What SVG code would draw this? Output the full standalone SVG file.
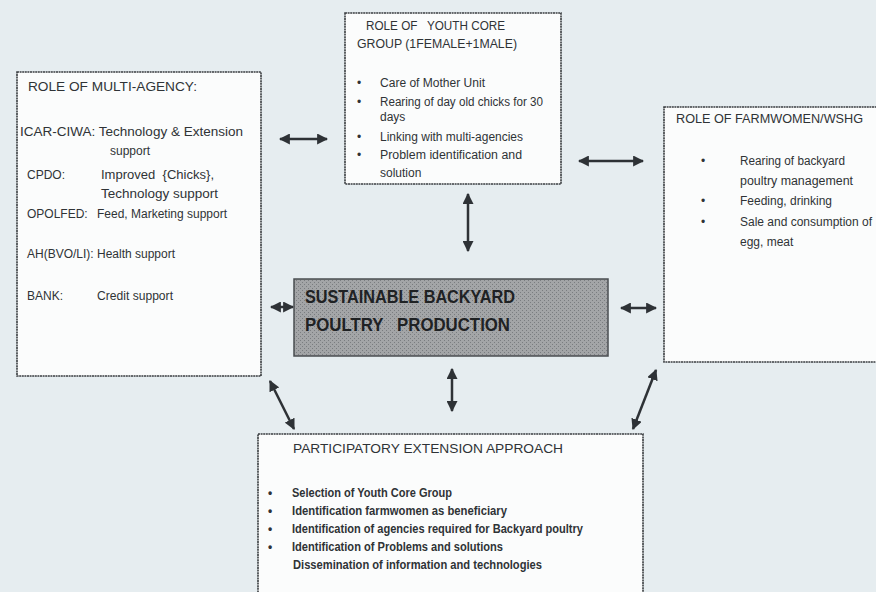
<svg xmlns="http://www.w3.org/2000/svg" width="876" height="592" viewBox="0 0 876 592">
<defs>
<marker id="ah" viewBox="0 0 10 10" refX="9" refY="5" markerWidth="4.4" markerHeight="4.4" orient="auto-start-reverse" markerUnits="strokeWidth">
<path d="M0,0 L10,5 L0,10 z" fill="#2e3236"/>
</marker>
<pattern id="dith" width="4" height="4" patternUnits="userSpaceOnUse">
<rect width="4" height="4" fill="#a3a5a7"/>
<rect x="0" y="0" width="1" height="1" fill="#7a7d80"/>
<rect x="2" y="2" width="1" height="1" fill="#7a7d80"/>
</pattern>
</defs>
<style>
.box{fill:#fbfcfc;stroke:#3a3d40;stroke-width:1.6;stroke-dasharray:2 0.6}
.t{font-family:"Liberation Sans",Arial,sans-serif;fill:#2f3336;font-size:12px;white-space:pre}
.h{font-family:"Liberation Sans",Arial,sans-serif;fill:#2f3336;font-size:13.5px;white-space:pre}
.b{font-weight:bold}
.c{font-family:"Liberation Sans",Arial,sans-serif;fill:#1f2224;font-size:18px;font-weight:bold;white-space:pre}
.conn{stroke:#2e3236;stroke-width:2.5;fill:none;marker-start:url(#ah);marker-end:url(#ah)}
</style>
<rect width="876" height="592" fill="#e6edf0"/>

<g id="multi-agency">
<rect class="box" x="17" y="72" width="244" height="304"/>
<text class="h" x="28" y="91" textLength="169" lengthAdjust="spacingAndGlyphs">ROLE OF MULTI-AGENCY:</text>
<text class="t" x="20" y="136" textLength="223" lengthAdjust="spacingAndGlyphs">ICAR-CIWA: Technology &amp; Extension</text>
<text class="t" x="110" y="155">support</text>
<text class="t" x="27" y="179">CPDO:</text>
<text class="t" x="101" y="179" textLength="113" lengthAdjust="spacingAndGlyphs">Improved  {Chicks},</text>
<text class="t" x="101" y="198" textLength="117" lengthAdjust="spacingAndGlyphs">Technology support</text>
<text class="t" x="27" y="218" font-size="11">OPOLFED:</text>
<text class="t" x="97" y="218" textLength="130" lengthAdjust="spacingAndGlyphs" font-size="11">Feed, Marketing support</text>
<text class="t" x="27" y="258" font-size="11">AH(BVO/LI):</text>
<text class="t" x="97" y="258" textLength="78" lengthAdjust="spacingAndGlyphs" font-size="11">Health support</text>
<text class="t" x="27" y="300" font-size="11">BANK:</text>
<text class="t" x="97" y="300" textLength="76" lengthAdjust="spacingAndGlyphs" font-size="11">Credit support</text>
</g>

<g id="youth-core">
<rect class="box" x="345" y="13" width="216" height="171"/>
<text class="t" x="366" y="30" font-size="12.5" textLength="139" lengthAdjust="spacingAndGlyphs">ROLE OF   YOUTH CORE</text>
<text class="t" x="357" y="48" font-size="12.5" textLength="160" lengthAdjust="spacingAndGlyphs">GROUP (1FEMALE+1MALE)</text>
<g class="t" font-size="11">
<text x="357" y="87">•</text><text x="380" y="87" textLength="105" lengthAdjust="spacingAndGlyphs">Care of Mother Unit</text>
<text x="357" y="106">•</text><text x="380" y="106" textLength="163" lengthAdjust="spacingAndGlyphs">Rearing of day old chicks for 30</text>
<text x="380" y="121">days</text>
<text x="357" y="141">•</text><text x="380" y="141" textLength="143" lengthAdjust="spacingAndGlyphs">Linking with multi-agencies</text>
<text x="357" y="159">•</text><text x="380" y="159" textLength="142" lengthAdjust="spacingAndGlyphs">Problem identification and</text>
<text x="380" y="177">solution</text>
</g>
</g>

<g id="farmwomen">
<rect class="box" x="664" y="107" width="220" height="255"/>
<text class="t" x="676" y="123" font-size="12.5" textLength="187" lengthAdjust="spacingAndGlyphs">ROLE OF FARMWOMEN/WSHG</text>
<g class="t" font-size="11">
<text x="701" y="165">•</text><text x="740" y="165" textLength="105" lengthAdjust="spacingAndGlyphs">Rearing of backyard</text>
<text x="740" y="185" textLength="113" lengthAdjust="spacingAndGlyphs">poultry  management</text>
<text x="701" y="205">•</text><text x="740" y="205" textLength="92" lengthAdjust="spacingAndGlyphs">Feeding, drinking</text>
<text x="701" y="226">•</text><text x="740" y="226" textLength="132" lengthAdjust="spacingAndGlyphs">Sale and consumption of</text>
<text x="740" y="246">egg, meat</text>
</g>
</g>

<g id="sustainable">
<rect x="294" y="279" width="314" height="77" fill="url(#dith)" stroke="#4a4d50" stroke-width="1.5"/>
<text class="c" x="305" y="303" textLength="210" lengthAdjust="spacingAndGlyphs">SUSTAINABLE BACKYARD</text>
<text class="c" x="305" y="331" textLength="205" lengthAdjust="spacingAndGlyphs">POULTRY   PRODUCTION</text>
</g>

<g id="participatory">
<rect class="box" x="258" y="434" width="385" height="170"/>
<text class="h" x="293" y="453" textLength="270" lengthAdjust="spacingAndGlyphs">PARTICIPATORY EXTENSION APPROACH</text>
<g class="t b" font-size="11">
<text x="268" y="497">•</text><text x="292" y="497" textLength="160" lengthAdjust="spacingAndGlyphs">Selection of Youth Core Group</text>
<text x="268" y="515">•</text><text x="292" y="515" textLength="215" lengthAdjust="spacingAndGlyphs">Identification farmwomen as beneficiary</text>
<text x="268" y="533">•</text><text x="292" y="533" textLength="291" lengthAdjust="spacingAndGlyphs">Identification of agencies required for Backyard poultry</text>
<text x="268" y="551">•</text><text x="292" y="551" textLength="211" lengthAdjust="spacingAndGlyphs">Identification of Problems and solutions</text>
<text x="293" y="569" textLength="249" lengthAdjust="spacingAndGlyphs">Dissemination of information and technologies</text>
</g>
</g>

<g id="connectors">
<line class="conn" x1="280" y1="139" x2="327" y2="139"/>
<line class="conn" x1="579" y1="161" x2="643" y2="161"/>
<line class="conn" x1="468" y1="194" x2="468" y2="251"/>
<line class="conn" x1="271" y1="307" x2="293" y2="307"/>
<line class="conn" x1="621" y1="308" x2="656" y2="308"/>
<line class="conn" x1="452" y1="369" x2="452" y2="411"/>
<line class="conn" x1="270" y1="381" x2="294" y2="429"/>
<line class="conn" x1="656" y1="370" x2="633" y2="429"/>
</g>
</svg>
